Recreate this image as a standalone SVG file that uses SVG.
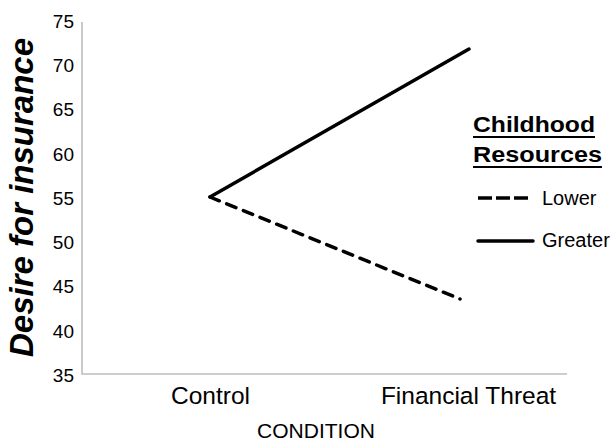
<svg xmlns="http://www.w3.org/2000/svg" width="614" height="441" viewBox="0 0 614 441">
<style>
text{font-family:"Liberation Sans",Arial,sans-serif;fill:#000}
.tick{font-size:19px;text-anchor:end}
.axis{stroke:#bdbdbd;stroke-width:1.6;fill:none}
.series{stroke:#000;stroke-width:3.5;fill:none;stroke-linecap:round}
.dash{stroke-dasharray:10 8}
.legdash{stroke-dasharray:14 4;stroke-linecap:butt}
.leg{font-size:20px}
.legtitle{font-size:22px;font-weight:bold}
</style>
<rect width="614" height="441" fill="#fff"/>
<g id="axes">
<polyline class="axis" points="82,22 82,374 567,374"/>
</g>
<g id="yticks">
<text class="tick" x="74" y="28">75</text>
<text class="tick" x="74" y="72">70</text>
<text class="tick" x="74" y="116">65</text>
<text class="tick" x="74" y="161">60</text>
<text class="tick" x="74" y="205">55</text>
<text class="tick" x="74" y="249">50</text>
<text class="tick" x="74" y="293">45</text>
<text class="tick" x="74" y="338">40</text>
<text class="tick" x="74" y="382">35</text>
</g>
<g id="ytitle">
<text x="0" y="0" transform="translate(33,197.5) rotate(-90)" text-anchor="middle" font-size="33" font-weight="bold" font-style="italic" textLength="319" lengthAdjust="spacingAndGlyphs">Desire for insurance</text>
</g>
<g id="xlabels">
<text x="210.5" y="404" font-size="24.5" text-anchor="middle">Control</text>
<text x="468.5" y="404" font-size="24.5" text-anchor="middle">Financial Threat</text>
<text x="316" y="438" font-size="21" text-anchor="middle">CONDITION</text>
</g>
<g id="connectors">
<polyline id="greater" class="series" points="210,197 469,49"/>
<polyline id="lower" class="series dash" points="210,197 460,299"/>
</g>
<g id="legend">
<text class="legtitle" x="473" y="132" textLength="122" lengthAdjust="spacingAndGlyphs">Childhood</text>
<rect x="473" y="136" width="122" height="2" fill="#000"/>
<text class="legtitle" x="473" y="162" textLength="129" lengthAdjust="spacingAndGlyphs">Resources</text>
<rect x="473" y="166" width="129" height="2" fill="#000"/>
<line class="series legdash" x1="478" y1="198" x2="531" y2="198"/>
<text class="leg" x="542" y="205">Lower</text>
<line class="series" x1="478" y1="241" x2="533" y2="241" stroke-linecap="butt"/>
<text class="leg" x="542" y="247">Greater</text>
</g>
</svg>
